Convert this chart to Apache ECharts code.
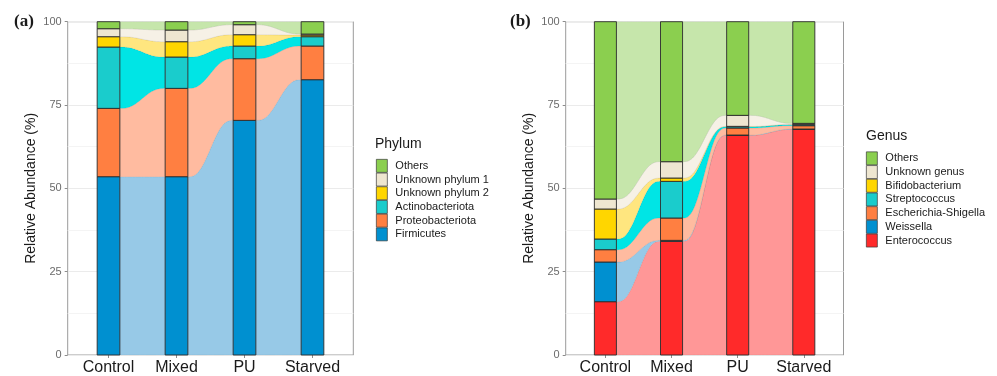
<!DOCTYPE html>
<html><head><meta charset="utf-8">
<script src="https://cdn.jsdelivr.net/npm/echarts@6/dist/echarts.min.js"></script>
<style>html,body{margin:0;padding:0;background:#fff}#c{width:997px;height:376px}</style>
</head><body><div id="c"></div>
<script>
// ---------- data ----------
const categories = ['Control', 'Mixed', 'PU', 'Starved'];
const yTickLabels = [0, 25, 50, 75, 100];

// Panel (a): phylum relative abundance (%) per category, bottom -> top stacking order
const phylumNames = ['Firmicutes', 'Proteobacteriota', 'Actinobacteriota', 'Unknown phylum 2', 'Unknown phylum 1', 'Others'];
const phylumFirmicutes       = [53.5, 53.5, 70.4, 82.6];
const phylumProteobacteriota = [20.5, 26.5, 18.5, 10.1];
const phylumActinobacteriota = [18.4,  9.4,  3.8,  2.8];
const phylumUnknown2         = [ 3.1,  4.6,  3.4,  0.5];
const phylumUnknown1         = [ 2.4,  3.5,  3.0,  0.3];
const phylumOthers           = [ 2.1,  2.5,  0.9,  3.7];

// Panel (b): genus relative abundance (%) per category, bottom -> top stacking order
const genusNames = ['Enterococcus', 'Weissella', 'Escherichia-Shigella', 'Streptococcus', 'Bifidobacterium', 'Unknown genus', 'Others'];
const genusEnterococcus    = [16.0, 34.1, 65.9, 67.7];
const genusWeissella       = [11.9,  0.3,  0.1,  0.1];
const genusEscherichia     = [ 3.7,  6.7,  2.1,  1.0];
const genusStreptococcus   = [ 3.2, 11.0,  0.4,  0.3];
const genusBifidobacterium = [ 9.0,  1.0,  0.1,  0.1];
const genusUnknown         = [ 3.0,  4.9,  3.3,  0.3];
const genusOthers          = [53.2, 42.0, 28.1, 30.5];

// ---------- styles ----------
const C = {
  blue:   ['#0090d0', '#97c9e7'],
  orange: ['#ff7f41', '#ffbba0'],
  cyan:   ['#1acccc', '#00e5e5'],
  yellow: ['#ffd600', '#ffe67f'],
  beige:  ['#eee6d0', '#f6f1e6'],
  green:  ['#8bcf4f', '#c6e6ab'],
  red:    ['#ff2a2a', '#ff9797']
};
const phylumSeries = [
  [phylumNames[0], phylumFirmicutes, C.blue],
  [phylumNames[1], phylumProteobacteriota, C.orange],
  [phylumNames[2], phylumActinobacteriota, C.cyan],
  [phylumNames[3], phylumUnknown2, C.yellow],
  [phylumNames[4], phylumUnknown1, C.beige],
  [phylumNames[5], phylumOthers, C.green]
];
const genusSeries = [
  [genusNames[0], genusEnterococcus, C.red],
  [genusNames[1], genusWeissella, C.blue],
  [genusNames[2], genusEscherichia, C.orange],
  [genusNames[3], genusStreptococcus, C.cyan],
  [genusNames[4], genusBifidobacterium, C.yellow],
  [genusNames[5], genusUnknown, C.beige],
  [genusNames[6], genusOthers, C.green]
];

const HALF = 1 / 6; // half bar width in category units
function ease(s) { return s * s * s * (s * (s * 6 - 15) + 10); }

function buildSeries(list, axisIdx) {
  const n = categories.length;
  const cum = new Array(n).fill(0);
  const out = [];
  list.forEach(([name, vals, col]) => {
    const bases = cum.slice();
    const tops = vals.map((v, i) => bases[i] + v);
    for (let i = 0; i < n; i++) cum[i] = tops[i];
    const data = categories.map((c, i) => [i + 1, bases[i], tops[i]]);
    out.push({
      type: 'custom', name: name, xAxisIndex: axisIdx, yAxisIndex: axisIdx,
      itemStyle: { color: col[0] },
      silent: true, animation: false,
      data: data,
      renderItem: function (params, api) {
        const i = params.dataIndex;
        const xv = api.value(0);
        const children = [];
        if (i < n - 1) {
          const xa = xv + HALF, xb = xv + 1 - HALF;
          const pts = [];
          const N = 40;
          for (let k = 0; k <= N; k++) {
            const s = k / N, e = ease(s);
            pts.push(api.coord([xa + (xb - xa) * s, tops[i] + (tops[i + 1] - tops[i]) * e]));
          }
          for (let k = N; k >= 0; k--) {
            const s = k / N, e = ease(s);
            pts.push(api.coord([xa + (xb - xa) * s, bases[i] + (bases[i + 1] - bases[i]) * e]));
          }
          children.push({ type: 'polygon', z2: 1, shape: { points: pts },
            style: { fill: col[1], stroke: 'rgba(0,0,0,0.10)', lineWidth: 0.6 } });
        }
        const p0 = api.coord([xv - HALF, api.value(2)]);
        const p1 = api.coord([xv + HALF, api.value(1)]);
        children.push({ type: 'rect', z2: 10,
          shape: { x: p0[0], y: p0[1], width: p1[0] - p0[0], height: p1[1] - p0[1] },
          style: { fill: col[0], stroke: '#2b2b2b', lineWidth: 0.9 } });
        return { type: 'group', children: children };
      }
    });
  });
  return out;
}

function xAxisCfg(idx) {
  return {
    type: 'value', gridIndex: idx, min: 0.4, max: 4.6,
    splitLine: { show: false },
    axisLine: { show: false },
    axisTick: { show: true, length: 3, lineStyle: { color: '#8c8c8c' }, customValues: [1, 2, 3, 4] },
    axisLabel: { show: true, customValues: [1, 2, 3, 4], margin: 5, fontSize: 16,
      color: '#1a1a1a', fontFamily: 'Liberation Sans, Arial, sans-serif',
      formatter: v => categories[Math.round(v) - 1] }
  };
}
function yAxisCfg(idx) {
  return {
    type: 'value', gridIndex: idx, min: yTickLabels[0], max: yTickLabels[yTickLabels.length - 1], interval: 25,
    name: 'Relative Abundance (%)', nameLocation: 'middle', nameGap: 30,
    nameTextStyle: { fontSize: 14, color: '#1a1a1a', fontFamily: 'Liberation Sans, Arial, sans-serif' },
    axisLine: { show: false },
    axisTick: { show: true, length: 3, lineStyle: { color: '#8c8c8c' } },
    axisLabel: { fontSize: 11, color: '#6b6b6b', margin: 6, fontFamily: 'Liberation Sans, Arial, sans-serif' },
    splitLine: { show: true, lineStyle: { color: '#ebebeb', width: 1 } },
    minorTick: { show: false, splitNumber: 2 },
    minorSplitLine: { show: true, lineStyle: { color: '#f4f4f4', width: 1 } }
  };
}
function legendCfg(list, left, top) {
  const names = list.map(d => d[0]).reverse();
  const cols = list.map(d => d[2][0]).reverse();
  return {
    orient: 'vertical', left: left, top: top, padding: 0, itemGap: 0,
    itemWidth: 11, itemHeight: 13, selectedMode: false,
    itemStyle: { borderColor: '#3a3a3a', borderWidth: 0.7 },
    textStyle: { fontSize: 11, color: '#1a1a1a', padding: [0, 0, 0, 3], fontFamily: 'Liberation Sans, Arial, sans-serif' },
    data: names.map((nm, i) => ({ name: nm, icon: 'rect', itemStyle: { color: cols[i] } }))
  };
}

const chart = echarts.init(document.getElementById('c'), null, { renderer: 'canvas' });
chart.setOption({
  animation: false,
  backgroundColor: '#ffffff',
  grid: [
    { left: 67.7, top: 21.7, width: 285.6, height: 333.3, show: true, borderColor: '#9a9a9a', borderWidth: 1, backgroundColor: 'transparent' },
    { left: 565.7, top: 21.7, width: 277.8, height: 333.3, show: true, borderColor: '#9a9a9a', borderWidth: 1, backgroundColor: 'transparent' }
  ],
  xAxis: [xAxisCfg(0), xAxisCfg(1)],
  yAxis: [yAxisCfg(0), yAxisCfg(1)],
  legend: [legendCfg(phylumSeries, 376, 159), legendCfg(genusSeries, 866, 151.5)],
  graphic: [
    { type: 'text', left: 14, top: 13, style: { text: '(a)', font: 'bold 17px "Liberation Serif", "DejaVu Serif", serif', fill: '#1a1a1a' } },
    { type: 'text', left: 510, top: 13, style: { text: '(b)', font: 'bold 17px "Liberation Serif", "DejaVu Serif", serif', fill: '#1a1a1a' } },
    { type: 'text', left: 375, top: 137, style: { text: 'Phylum', font: '14px "Liberation Sans", Arial, sans-serif', fill: '#1a1a1a' } },
    { type: 'text', left: 866, top: 129, style: { text: 'Genus', font: '14px "Liberation Sans", Arial, sans-serif', fill: '#1a1a1a' } }
  ],
  series: buildSeries(phylumSeries, 0).concat(buildSeries(genusSeries, 1))
});
</script>
</body></html>
